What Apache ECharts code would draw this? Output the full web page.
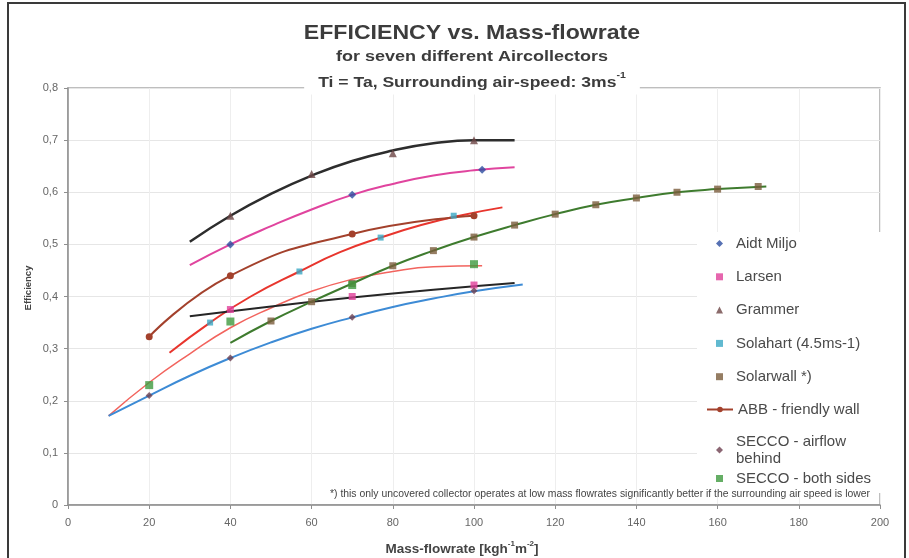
<!DOCTYPE html>
<html>
<head>
<meta charset="utf-8">
<script src="https://cdn.jsdelivr.net/npm/echarts@6/dist/echarts.min.js"></script>
<style>
  html, body { margin: 0; padding: 0; background: #fff; }
  #main { width: 909px; height: 558px; }
</style>
</head>
<body>
<div id="main"></div>
<script>
// measured points (mass-flowrate, efficiency)
var aidtX = [40, 70, 102];
var aidtY = [0.50, 0.595, 0.643];
var larsenX = [40, 70, 100];
var larsenY = [0.375, 0.40, 0.422];
var grammerX = [40, 60, 80, 100];
var grammerY = [0.555, 0.635, 0.675, 0.70];
var solahartX = [35, 57, 77, 95];
var solahartY = [0.35, 0.448, 0.513, 0.555];
var solarwallX = [50, 60, 70, 80, 90, 100, 110, 120, 130, 140, 150, 160, 170];
var solarwallY = [0.353, 0.39, 0.425, 0.459, 0.488, 0.514, 0.537, 0.558, 0.576, 0.589, 0.600, 0.606, 0.611];
var abbX = [20, 40, 70, 100];
var abbY = [0.323, 0.44, 0.52, 0.555];
var seccoAirX = [20, 40, 70, 100];
var seccoAirY = [0.21, 0.282, 0.36, 0.411];
var seccoBothX = [20, 40, 70, 100];
var seccoBothY = [0.23, 0.352, 0.422, 0.462];

// trend lines
var tGrammerX = [30, 40, 50, 60, 70, 80, 90, 100, 110];
var tGrammerY = [0.505, 0.555, 0.597, 0.632, 0.66, 0.68, 0.694, 0.70, 0.70];
var tAidtX = [30, 40, 50, 60, 70, 80, 90, 100, 110];
var tAidtY = [0.46, 0.50, 0.535, 0.567, 0.595, 0.616, 0.632, 0.642, 0.648];
var tSolahartX = [25, 35, 45, 57, 67, 77, 87, 97, 107];
var tSolahartY = [0.292, 0.35, 0.40, 0.448, 0.485, 0.513, 0.537, 0.556, 0.571];
var tBothX = [10, 20, 30, 40, 50, 60, 70, 80, 90, 102];
var tBothY = [0.171, 0.235, 0.29, 0.34, 0.378, 0.41, 0.433, 0.448, 0.457, 0.459];
var tLarsenX = [30, 50, 70, 90, 110];
var tLarsenY = [0.362, 0.381, 0.398, 0.413, 0.426];
var tAirX = [10, 20, 30, 40, 50, 60, 70, 80, 90, 100, 112];
var tAirY = [0.171, 0.21, 0.248, 0.282, 0.312, 0.338, 0.36, 0.38, 0.396, 0.41, 0.423];
var tSolarwallX = [40, 50, 60, 70, 80, 90, 100, 110, 120, 130, 140, 150, 160, 172];
var tSolarwallY = [0.311, 0.353, 0.39, 0.425, 0.459, 0.488, 0.514, 0.537, 0.558, 0.576, 0.589, 0.600, 0.606, 0.611];

var FONT = 'Liberation Sans, Arial, sans-serif';

function pairs(xs, ys) {
  return xs.map(function (x, i) { return [x, ys[i]]; });
}

function trend(xs, ys, color, width) {
  return {
    type: 'line', data: pairs(xs, ys), smooth: 0.5,
    showSymbol: false, silent: true, z: 2,
    lineStyle: { color: color, width: width }
  };
}

function pts(name, xs, ys, symbol, color, size) {
  return {
    name: name, type: 'scatter', data: pairs(xs, ys), symbol: symbol,
    symbolSize: size, z: 5, itemStyle: { color: color }
  };
}

// legend blocks: scatter items get a small icon, the ABB item a line icon
var legText = {
  color: '#4a4a4a', fontSize: 15, fontFamily: FONT, lineHeight: 17,
  rich: { sp: { width: 8 } }
};
function legendBlock(names, top, pad, iconW) {
  return {
    orient: 'vertical', left: 697, top: top, padding: pad,
    backgroundColor: '#fff', itemWidth: iconW, itemHeight: 7, itemGap: 16.3,
    textStyle: legText, data: names,
    formatter: function (n) {
      var lead = iconW < 10 ? '{sp|}' : '';
      if (n === 'SECCO - airflow behind') return lead + 'SECCO - airflow\n' + lead + 'behind';
      return lead + n;
    }
  };
}

var chart = echarts.init(document.getElementById('main'));

var option = {
  backgroundColor: '#fff',
  animation: false,
  grid: {
    left: 68, top: 88, right: 29, bottom: 53,
    show: true, borderColor: '#a9a9a9', borderWidth: 1.5
  },
  xAxis: {
    type: 'value', min: 0, max: 200, interval: 20,
    axisLine: { lineStyle: { color: '#8f8f8f', width: 1.5 } },
    axisTick: { show: true, length: 4, lineStyle: { color: '#8f8f8f' } },
    axisLabel: { color: '#666', fontSize: 11, fontFamily: FONT, margin: 12 },
    splitLine: { show: true, lineStyle: { color: '#eeeeee' } }
  },
  yAxis: {
    type: 'value', min: 0, max: 0.8, interval: 0.1,
    axisLine: { show: true, lineStyle: { color: '#8f8f8f', width: 1.5 } },
    axisTick: { show: true, length: 4, lineStyle: { color: '#8f8f8f' } },
    axisLabel: {
      color: '#666', fontSize: 11, fontFamily: FONT, margin: 10,
      formatter: function (v) { return String(Math.round(v * 10) / 10).replace('.', ','); }
    },
    splitLine: { show: true, lineStyle: { color: '#e6e6e6' } }
  },
  legend: [
    legendBlock(['Aidt Miljo', 'Larsen', 'Grammer', 'Solahart (4.5ms-1)', 'Solarwall *)'],
                232, [3, 50, 20, 19], 7),
    legendBlock(['ABB - friendly wall'], 401, [0, 60, 16, 9], 26),
    legendBlock(['SECCO - airflow behind'], 433, [0, 70, 3, 19], 7),
    legendBlock(['SECCO - both sides'], 470, [0, 60, 6, 19], 7)
  ],
  graphic: [
    { type: 'rect', z: 100, silent: true,
      shape: { x: 8, y: 3, width: 897, height: 600 },
      style: { fill: 'none', stroke: '#3a3a3a', lineWidth: 2 } },
    { type: 'text', z: 100, x: 472, y: 33, scaleX: 1.1,
      style: { text: 'EFFICIENCY vs. Mass-flowrate', font: 'bold 21px ' + FONT,
               fill: '#3c3c3c', align: 'center', verticalAlign: 'middle' } },
    { type: 'text', z: 100, x: 472, y: 57, scaleX: 1.2,
      style: { text: 'for seven different Aircollectors', font: 'bold 15px ' + FONT,
               fill: '#3c3c3c', align: 'center', verticalAlign: 'middle' } },
    { type: 'text', z: 100, x: 472, y: 82, scaleX: 1.17,
      style: {
        text: '{a|Ti = Ta, Surrounding air-speed: 3ms}{s|-1}',
        align: 'center', verticalAlign: 'middle',
        backgroundColor: '#fff', padding: [2, 12, 4, 12],
        rich: {
          a: { font: 'bold 15px ' + FONT, fill: '#3c3c3c', lineHeight: 19, verticalAlign: 'bottom' },
          s: { font: 'bold 9px ' + FONT, fill: '#3c3c3c', lineHeight: 19, verticalAlign: 'top' }
        }
      } },
    { type: 'text', z: 100, x: 28, y: 288, rotation: Math.PI / 2,
      style: { text: 'Efficiency', font: 'bold 9.5px ' + FONT, fill: '#444',
               align: 'center', verticalAlign: 'middle' } },
    { type: 'text', z: 100, x: 462, y: 548,
      style: {
        text: '{a|Mass-flowrate [kgh}{s|-1}{a|m}{s|-2}{a|]}',
        align: 'center', verticalAlign: 'middle',
        rich: {
          a: { font: 'bold 13.5px ' + FONT, fill: '#444', lineHeight: 17, verticalAlign: 'bottom' },
          s: { font: 'bold 8px ' + FONT, fill: '#444', lineHeight: 17, verticalAlign: 'top' }
        }
      } },
    { type: 'text', z: 100, x: 870, y: 494,
      style: {
        text: '*) this only uncovered collector operates at low mass flowrates significantly better if the surrounding air speed is lower',
        font: '10.4px ' + FONT, fill: '#444', align: 'right', verticalAlign: 'middle'
      } }
  ],
  series: [
    trend(tGrammerX, tGrammerY, '#2d2d2d', 2.5),
    trend(tAidtX, tAidtY, '#e0449e', 2),
    trend(tSolahartX, tSolahartY, '#e8352d', 2),
    trend(tBothX, tBothY, '#f2645e', 1.5),
    trend(tLarsenX, tLarsenY, '#262626', 2),
    trend(tAirX, tAirY, '#3d8bd5', 2),
    trend(tSolarwallX, tSolarwallY, '#3e7b2e', 2),
    pts('Aidt Miljo', aidtX, aidtY, 'diamond', '#2c4ea0', 8),
    pts('Larsen', larsenX, larsenY, 'rect', '#e0409a', 7),
    pts('Grammer', grammerX, grammerY, 'triangle', '#6e4646', 8),
    pts('Solahart (4.5ms-1)', solahartX, solahartY, 'rect', '#3aa8c4', 6),
    pts('Solarwall *)', solarwallX, solarwallY, 'rect', '#7a5c3c', 7),
    {
      name: 'ABB - friendly wall', type: 'line', data: pairs(abbX, abbY),
      smooth: 0.5, symbol: 'circle', symbolSize: 7, z: 4,
      lineStyle: { color: '#a3412c', width: 2 }, itemStyle: { color: '#a3412c' }
    },
    pts('SECCO - airflow behind', seccoAirX, seccoAirY, 'diamond', '#6e4050', 7),
    pts('SECCO - both sides', seccoBothX, seccoBothY, 'rect', '#3f9a3f', 8)
  ]
};

chart.setOption(option);
</script>
</body>
</html>
